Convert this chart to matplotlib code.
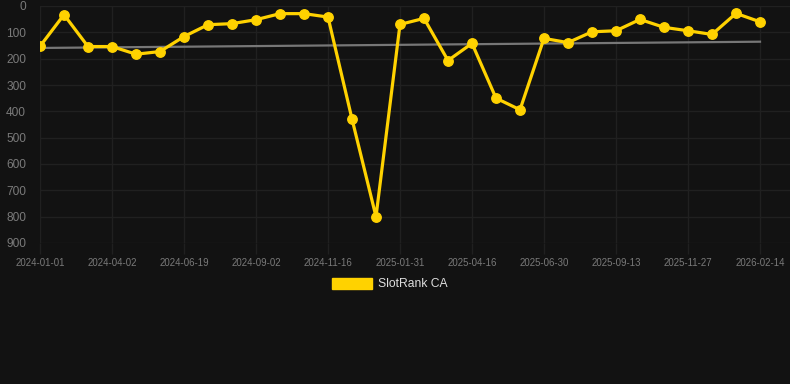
import numpy as np
import matplotlib.pyplot as plt
from matplotlib.patches import Patch

plt.rcParams['font.family'] = ['Liberation Sans', 'DejaVu Sans']

# SlotRank CA position over time (lower = better, axis inverted)
ranks = [153, 33, 154, 154, 183, 173, 116, 71, 67, 52, 29, 29, 42, 429, 800,
         70, 47, 207, 142, 350, 394, 123, 139, 98, 94, 51, 81, 94, 108, 28, 60]
tick_labels = ["2024-01-01", "2024-04-02", "2024-06-19", "2024-09-02", "2024-11-16",
               "2025-01-31", "2025-04-16", "2025-06-30", "2025-09-13", "2025-11-27",
               "2026-02-14"]
y_ticks = [0, 100, 200, 300, 400, 500, 600, 700, 800, 900]

bg = "#121212"
gold = "#FFD200"

x = np.arange(len(ranks))
fit = np.polyfit(x, ranks, 1)
trend = np.polyval(fit, x)

fig = plt.figure(figsize=(7.9, 3.84), dpi=100, facecolor=bg)
ax = fig.add_axes([40/790, 1-243/384, 750/790, 237/384])
ax.set_facecolor(bg)

ax.plot(x, trend, color="#777777", lw=1.6, zorder=2)
ax.plot(x, ranks, color=gold, lw=2.3, marker="o", ms=6.8, zorder=3)

ax.set_xlim(0, 31.25)
ax.set_ylim(900, 0)
ax.set_yticks(y_ticks)
ax.set_xticks(x[::3])
ax.set_xticklabels(tick_labels)

ax.grid(True, color="#202020", lw=1)
for s in ax.spines.values():
    s.set_visible(False)
ax.tick_params(axis="x", colors="#202020", length=8, width=1, labelsize=6.9, labelcolor="#7a7a7a", pad=3)
ax.tick_params(axis="y", length=0, labelsize=8.6, labelcolor="#7a7a7a", pad=10)
ax.set_axisbelow(True)

handle = Patch(facecolor=gold, edgecolor=gold)
fig.legend([handle], ["SlotRank CA"], loc="center", bbox_to_anchor=(390/790, 1-284/384),
           frameon=False, fontsize=8.7, labelcolor="#dddddd", handlelength=3.3,
           handleheight=1.0, handletextpad=0.5)

fig.savefig("out.png", dpi=100, facecolor=bg)
